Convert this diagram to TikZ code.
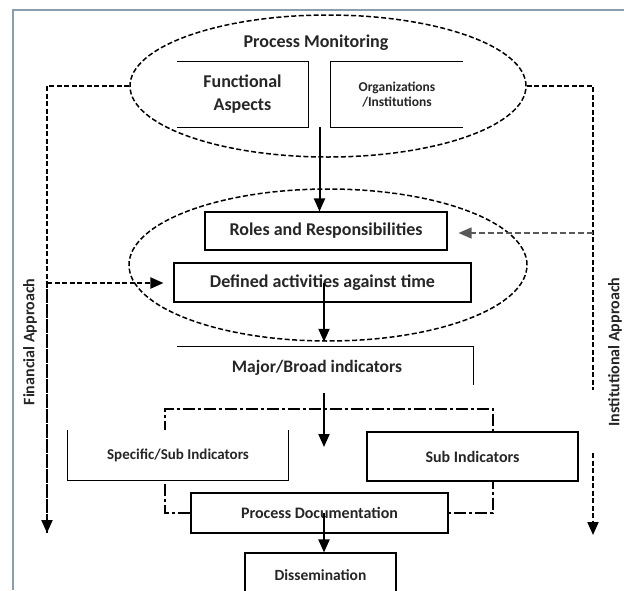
\documentclass[tikz,border=0pt]{standalone}
\usepackage{fontspec}
\setmainfont{Carlito}
\usetikzlibrary{arrows.meta,shapes.geometric,calc,backgrounds}
\definecolor{framec}{HTML}{8A9EAE}
\definecolor{txt}{HTML}{262626}
\begin{document}
\begin{tikzpicture}[x=1pt,y=-1pt,
  lbl/.style={font=\fontsize{#1}{#1}\selectfont\bfseries, text=txt, align=center, inner sep=0pt},
  ell/.style={ellipse, draw, line width=1.5pt, dash pattern=on 5pt off 2.5pt, inner sep=0pt},
  boxline/.style={line width=1.3pt},
  box/.style={draw, line width=1.1pt, fill=white},
  tip/.style={-{Triangle[length=13pt,width=11pt]}},
  arr/.style={line width=2pt, tip},
  dl/.style={line width=2pt, dash pattern=on 5pt off 2.5pt},
  bracket/.style={line width=1.1pt, dash pattern=on 12pt off 3pt on 3pt off 3pt}]
\useasboundingbox (0,0) rectangle (624,590);
\draw[framec, line width=1.5pt] (13,590) -- (13,10) -- (624,10);

% ellipses
\node[ell, minimum width=396pt, minimum height=142pt] (e1) at (328,86) {};
\node[ell, minimum width=398pt, minimum height=152pt] (e2) at (328,265) {};

\node[lbl=18] (pm) at (316,43) {Process Monitoring};

\node[lbl=18, minimum width=131pt, minimum height=65pt] (fa) at (242.5,94.5) {Functional\\[5pt]Aspects};
\draw[boxline] (fa.north west) -- (fa.north east) -- (fa.south east) -- (fa.south west);
\node[lbl=13.5, minimum width=132pt, minimum height=65pt] (org) at (397,94.5) {Organizations\\[1.5pt]/Institutions};
\draw[boxline] (org.north east) -- (org.north west) -- (org.south west) -- (org.south east);

\node[box, lbl=18, minimum width=242pt, minimum height=38pt] (roles) at (326,231) {Roles and Responsibilities};
\node[box, lbl=18, minimum width=297pt, minimum height=39pt] (defined) at (322.5,282.5) {Defined activities against time};

\node[lbl=17.5, minimum width=296pt, minimum height=42pt] (major) at (325,368) {Major/Broad indicators\hspace*{16pt}};
\draw[boxline] (major.north west) -- (major.north east) -- ([yshift=4pt]major.south east);

\node[lbl=15, fill=white, minimum width=220pt, minimum height=50pt] (spec) at (178,455) {Specific/Sub Indicators};
\draw[boxline] (spec.north west) -- (spec.south west) -- (spec.south east) -- (spec.north east);
\node[box, lbl=16, minimum width=211pt, minimum height=49pt] (sub) at (472.5,456.5) {Sub Indicators};
\node[box, lbl=16, minimum width=257pt, minimum height=40pt] (pd) at (319.5,513) {Process Documentation};
\node[box, lbl=15.5, minimum width=151pt, minimum height=44pt] (dis) at (320.5,575) {Dissemination};

\node[lbl=16, rotate=90] (fin) at (30,342) {Financial Approach};
\node[lbl=16, rotate=90] (inst) at (615,352) {Institutional Approach};

% coordinates
\coordinate (ax) at (324,0);
\coordinate (m1) at ($(fa.south east)!0.5!(org.south west)$);
\coordinate (a3s) at (324,393);
\coordinate (a3e) at (324,447);
\coordinate (bl) at (165,409);
\coordinate (br) at (493,409);
\coordinate (fend) at (47,533);
\coordinate (fj) at (47,283);
\coordinate (rend) at (593,390);
\coordinate (rs) at (593,453);
\coordinate (re) at (593,535);
\coordinate (rj) at (593,233);

% bracket behind boxes
\begin{scope}[on background layer]
\fill[white] (0,0) rectangle (624,590);
\draw[bracket] (pd.west) -- (pd.west -| bl) -- (bl) -- (br) -- (pd.east -| br) -- (pd.east);
\end{scope}

% solid arrows
\draw[arr] (m1) -- (m1 |- roles.north);
\draw[arr] (defined.center -| ax) -- (e2.south -| ax);
\draw[arr] (a3s) -- (a3e);
\draw[arr] (pd.center -| ax) -- (dis.north -| ax);

% approach lines
\draw[dl] (e1.west) -| (fend);
\draw[dl, tip] (fj) -- (fend);
\draw[dl, tip, shorten >=10pt] (fj) -- (fj -| defined.west);
\draw[dl] (e1.east) -| (rend);
\draw[dl, tip] (rs) -- (re);
\draw[line width=1.5pt, black!65, dash pattern=on 6pt off 3pt, tip, shorten >=11pt] (rj) -- (rj -| roles.east);
\end{tikzpicture}
\end{document}
